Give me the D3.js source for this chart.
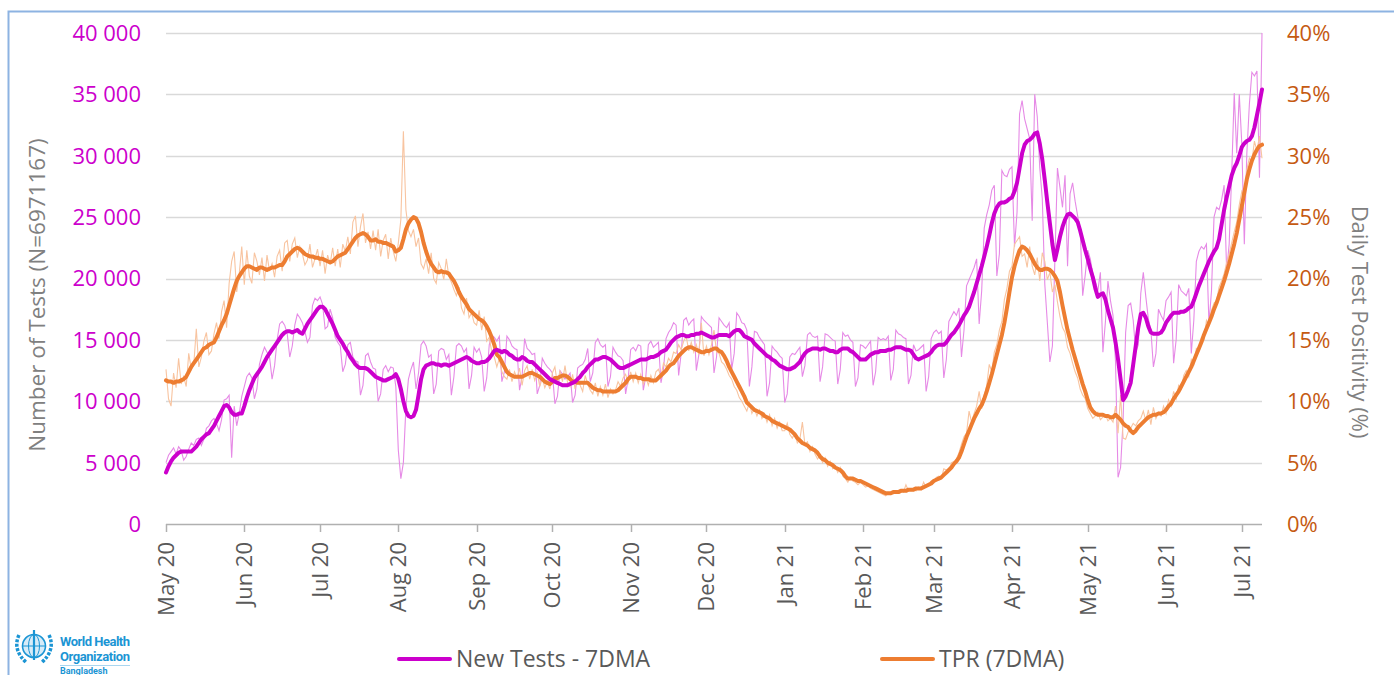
<!DOCTYPE html>
<html>
<head>
<meta charset="utf-8">
<script src="https://cdn.jsdelivr.net/npm/d3@7"></script>
<style>
  body { margin: 0; background: #fff; font-family: "Open Sans", sans-serif; }
</style>
</head>
<body>
<svg id="svg1" width="1394" height="675"></svg>
<script>
// daily series, first day 1 May 2020, one value per day up to 9 Jul 2021
var startDay = "2020-05-01";

// new tests, daily (thousands)
var testsDaily = [
  5.0,5.6,5.9,6.2,5.7,6.3,6.0,5.2,5.5,6.1,6.6,6.4,6.9,7.0,6.4,6.9,7.8,8.0,8.4,8.6,8.2,7.6,8.5,10.1,10.2,10.5,5.4,9.6,8.0,9.0,10.4,
  11.2,12.0,12.3,11.9,10.2,11.0,13.0,13.8,14.4,14.0,13.6,11.8,12.9,15.0,16.3,16.5,16.2,15.5,13.6,14.5,16.2,17.1,16.8,16.4,15.7,14.8,15.2,17.8,18.4,18.2,
  18.5,17.9,15.9,16.1,17.5,16.8,15.2,14.8,14.5,12.4,13.0,14.6,14.8,13.6,13.3,13.2,10.5,11.3,13.7,13.9,13.2,12.7,12.6,10.0,10.6,12.6,12.9,12.4,12.8,12.7,11.2,
  6.0,3.7,5.0,9.5,11.8,12.6,13.2,11.0,12.3,14.6,14.9,14.5,13.6,13.8,10.6,11.4,14.1,14.3,14.2,13.4,13.8,10.5,12.0,14.5,14.7,14.5,14.0,14.3,11.0,12.1,14.4,
  14.0,14.3,13.6,10.8,11.9,14.6,15.4,15.2,14.9,15.3,11.6,12.4,15.3,15.0,14.5,14.3,14.2,10.9,12.0,15.1,14.3,14.1,13.8,13.9,10.6,11.3,13.5,13.1,12.8,12.6,
  12.3,9.8,10.4,12.5,12.2,11.8,12.0,12.3,9.9,10.5,12.7,12.9,13.0,13.4,14.3,11.6,12.3,14.8,15.1,14.6,14.4,14.6,11.2,12.0,14.4,14.0,13.7,13.6,13.3,10.6,11.8,
  14.2,14.4,14.1,14.6,14.5,10.9,12.0,14.6,14.9,14.4,14.6,14.8,11.5,12.6,15.1,15.6,15.9,16.4,16.2,12.1,13.9,16.6,16.8,16.2,16.5,16.7,12.5,13.8,16.9,16.6,
  16.4,16.2,16.0,12.3,13.6,16.8,16.5,16.2,16.0,16.4,12.6,13.9,17.2,16.9,16.4,16.3,15.8,11.2,12.8,15.7,15.6,15.2,14.9,14.6,10.4,11.5,14.5,14.2,14.0,13.7,13.5,
  9.9,10.6,13.6,13.9,13.8,14.1,14.4,12.0,12.9,15.4,15.6,15.3,15.2,15.3,11.6,12.8,15.5,15.4,15.2,15.0,14.9,11.4,12.6,15.6,15.3,15.4,15.0,14.8,11.2,11.9,14.6,
  14.5,14.3,14.6,14.9,11.3,12.4,15.2,15.0,15.1,15.0,15.3,11.7,12.6,15.8,15.5,15.4,15.2,15.1,11.4,12.1,14.6,14.1,14.2,14.4,14.6,10.8,12.0,15.1,
  15.6,15.8,15.5,15.7,11.9,13.4,16.5,16.9,17.3,17.0,17.6,13.6,15.8,19.4,19.9,20.4,20.9,21.6,16.3,19.0,24.1,25.2,26.0,27.2,27.6,20.2,22.0,28.8,28.4,28.3,28.9,
  29.1,22.6,25.4,33.4,34.5,33.0,32.2,31.4,24.7,35.0,33.2,29.0,26.5,19.5,16.4,13.2,14.5,21.6,29.0,27.4,25.8,28.4,21.0,26.9,27.8,26.3,25.1,24.0,18.6,20.3,
  22.3,21.6,20.4,19.8,19.0,20.5,14.0,16.5,19.8,18.2,17.0,13.2,3.8,4.6,8.5,15.6,17.8,18.0,16.6,14.0,14.6,18.8,20.5,18.5,16.7,15.8,12.8,13.9,17.5,17.0,16.6,
  18.2,18.5,18.9,13.1,15.0,19.5,19.0,18.8,18.6,19.2,13.9,16.6,21.4,22.2,22.6,22.4,22.8,16.3,19.0,25.0,25.8,25.6,26.4,27.6,20.6,22.8,28.5,35.1,30.2,35.0,
  31.0,22.8,30.2,34.2,36.8,36.5,36.9,28.2,40.0
];

// new tests, 7 day moving average (thousands)
var tests7DMA = [
  4.2,4.7,5.1,5.4,5.6,5.8,5.9,5.9,5.9,5.9,5.9,6.1,6.3,6.6,6.9,7.1,7.3,7.4,7.7,8.0,8.4,8.8,9.2,9.6,9.7,9.5,9.1,8.9,8.9,9.0,9.0,
  9.6,10.3,10.9,11.4,11.9,12.2,12.5,12.8,13.2,13.6,13.9,14.2,14.5,14.8,15.1,15.4,15.6,15.7,15.7,15.6,15.7,15.8,15.6,15.5,15.9,16.3,16.6,16.9,17.2,17.5,
  17.7,17.7,17.5,17.1,16.7,16.3,15.8,15.3,15.0,14.7,14.3,14.0,13.6,13.3,13.0,12.8,12.7,12.7,12.7,12.6,12.4,12.2,12.0,11.9,11.8,11.7,11.7,11.8,11.9,12.0,12.2,
  11.8,11.0,10.0,9.2,8.8,8.7,8.8,9.3,10.5,11.8,12.6,12.9,13.0,13.1,13.1,13.0,13.0,12.9,13.0,13.0,12.9,13.0,13.1,13.2,13.3,13.4,13.5,13.6,13.5,13.3,13.2,
  13.1,13.1,13.2,13.2,13.3,13.5,13.8,14.1,14.2,14.1,14.0,14.1,14.0,13.8,13.7,13.5,13.4,13.4,13.6,13.5,13.3,13.2,13.2,13.0,12.8,12.6,12.4,12.2,12.0,11.8,
  11.7,11.6,11.5,11.4,11.3,11.3,11.3,11.4,11.5,11.6,11.8,12.0,12.3,12.5,12.8,13.0,13.2,13.4,13.4,13.5,13.6,13.6,13.5,13.4,13.2,13.0,12.8,12.7,12.7,12.8,12.9,
  13.0,13.1,13.2,13.3,13.4,13.4,13.4,13.5,13.6,13.6,13.7,13.8,14.0,14.1,14.2,14.5,14.8,15.0,15.2,15.3,15.4,15.4,15.3,15.3,15.4,15.4,15.5,15.5,15.6,15.5,
  15.4,15.3,15.2,15.2,15.3,15.4,15.4,15.4,15.4,15.3,15.5,15.7,15.8,15.8,15.6,15.3,15.2,15.1,15.0,14.7,14.5,14.3,14.1,13.9,13.7,13.6,13.4,13.3,13.1,12.9,12.8,
  12.7,12.6,12.6,12.7,12.8,13.0,13.2,13.6,13.9,14.1,14.2,14.3,14.3,14.3,14.2,14.3,14.3,14.2,14.1,14.1,14.0,14.0,14.2,14.3,14.3,14.3,14.1,14.0,13.8,13.6,13.4,
  13.4,13.4,13.6,13.8,13.9,14.0,14.0,14.1,14.1,14.1,14.2,14.2,14.3,14.4,14.4,14.4,14.3,14.2,14.2,14.1,13.8,13.5,13.4,13.5,13.6,13.7,13.8,14.0,
  14.3,14.5,14.6,14.6,14.6,14.8,15.1,15.4,15.6,15.9,16.2,16.6,17.0,17.3,17.7,18.3,18.9,19.6,20.3,21.0,21.8,22.6,23.5,24.5,25.3,25.8,26.1,26.2,26.2,26.3,26.5,
  26.6,27.1,27.8,29.0,30.2,30.9,31.2,31.3,31.5,31.8,31.9,31.0,29.7,28.0,26.2,24.5,22.8,21.5,22.4,23.4,24.2,24.8,25.2,25.3,25.1,24.9,24.6,23.9,23.1,22.3,
  21.6,20.8,20.1,19.2,18.5,18.7,18.8,18.3,17.4,16.7,16.0,14.8,13.4,11.8,10.1,10.4,10.9,11.5,13.0,14.5,16.0,17.1,17.2,16.8,16.1,15.6,15.5,15.5,15.5,15.6,15.9,
  16.4,16.7,17.0,17.2,17.2,17.2,17.3,17.3,17.4,17.6,17.7,18.2,18.8,19.4,19.9,20.4,20.9,21.4,21.8,22.2,22.5,23.2,24.4,25.6,26.6,27.5,28.4,29.0,29.4,30.0,
  30.7,31.0,31.2,31.3,31.6,32.3,33.3,34.3,35.4
];

// test positivity rate, daily (%)
var tprDaily = [
  12.6,10.2,9.6,12.3,11.1,13.5,11.4,12.0,11.2,13.9,12.6,13.0,15.9,12.8,13.6,14.9,15.6,13.8,14.1,15.5,16.4,15.1,17.3,18.2,16.0,19.6,21.4,22.2,18.9,20.4,22.6,
  19.5,22.3,20.2,19.6,22.1,21.4,20.3,21.7,19.8,21.9,20.6,21.2,20.1,21.8,22.3,20.6,22.9,23.1,21.4,22.8,23.3,21.7,22.6,22.0,21.1,21.5,22.8,20.9,21.6,22.4,
  21.0,22.3,20.4,21.9,21.2,22.5,21.0,22.4,20.9,22.8,22.2,23.4,22.0,24.6,25.1,22.6,24.2,25.3,22.9,23.8,22.4,23.9,22.3,24.0,21.8,23.1,23.6,21.6,23.3,22.2,21.4,
  22.9,24.8,32.0,25.6,23.9,23.4,24.0,22.6,23.3,21.2,20.8,21.6,20.4,22.1,20.0,19.6,21.3,20.8,19.9,21.6,20.2,19.7,19.1,18.6,19.3,17.6,17.1,18.4,16.8,17.2,16.4,
  16.2,17.4,15.8,16.9,14.9,15.2,14.0,13.6,12.8,13.5,12.4,12.0,11.8,12.6,11.6,12.4,11.9,12.7,11.3,12.5,12.9,11.8,12.6,11.7,12.3,11.2,11.9,11.1,11.6,11.0,
  12.3,12.8,11.4,12.5,11.6,12.9,11.5,11.2,12.2,11.0,11.9,11.3,10.8,12.1,11.4,10.9,10.6,11.5,10.4,11.2,10.5,11.4,10.3,11.0,10.6,10.9,11.6,11.2,11.9,12.2,11.5,
  12.4,11.6,12.3,11.5,12.2,11.4,12.0,11.3,12.1,11.5,12.4,12.6,12.0,13.1,12.8,13.5,13.2,14.0,13.9,14.6,14.2,14.9,15.3,14.1,14.8,14.0,14.6,13.8,16.4,13.7,
  14.5,13.8,14.6,15.8,14.0,13.9,13.2,13.0,12.6,12.1,11.8,11.2,10.9,10.3,10.0,9.6,9.2,9.9,9.0,9.4,8.8,9.3,8.6,9.0,8.3,8.9,8.0,8.6,7.8,8.3,7.6,
  7.6,8.2,7.3,7.0,7.4,6.6,6.9,8.3,6.5,6.7,5.9,6.3,5.7,5.3,5.6,5.0,5.4,4.7,5.1,4.5,4.7,4.2,4.6,3.9,3.7,3.4,3.8,3.5,3.4,3.2,3.4,
  3.2,3.0,3.1,2.9,2.8,2.7,2.6,2.5,2.4,2.3,2.5,2.4,2.7,2.5,2.6,2.8,2.6,3.2,2.7,2.8,2.9,2.7,3.0,2.8,3.4,3.0,3.3,3.5,
  3.4,3.8,3.9,3.7,4.5,4.4,4.3,5.0,5.1,5.3,5.8,6.5,7.1,7.4,9.2,8.3,9.0,9.6,10.8,9.4,10.5,11.3,13.0,12.4,14.0,14.6,15.8,16.5,18.3,19.2,20.6,
  21.0,22.8,23.1,23.4,21.8,22.0,20.9,22.6,21.0,20.3,21.7,19.8,22.1,21.4,19.9,20.5,18.9,19.5,18.1,16.9,16.0,15.6,14.4,13.9,13.1,12.4,11.9,11.0,10.5,10.2,
  9.4,9.0,8.6,8.8,9.1,8.5,8.7,8.9,8.4,8.6,8.3,9.6,7.4,10.5,7.0,6.9,7.5,7.8,8.2,8.0,8.4,8.6,9.2,8.4,9.3,8.1,9.5,8.6,9.1,8.8,9.6,
  9.0,10.1,9.6,10.8,10.2,11.3,11.0,12.1,12.5,12.0,13.4,13.0,14.3,14.1,15.2,15.0,16.6,16.2,17.4,18.0,18.2,19.3,19.8,20.4,21.3,22.0,22.9,23.8,24.6,26.0,
  27.1,26.6,28.9,29.8,29.5,31.2,30.4,31.6,29.8
];

// test positivity rate, 7 day moving average (%)
var tpr7DMA = [
  11.7,11.6,11.6,11.5,11.6,11.6,11.7,11.8,12.0,12.4,12.8,13.1,13.4,13.7,14.0,14.3,14.4,14.6,14.7,14.8,15.2,15.7,16.2,16.6,17.1,17.8,18.5,19.2,19.8,20.2,20.5,
  20.8,21.0,21.0,20.9,20.8,20.7,20.9,20.9,20.8,20.7,20.8,20.9,20.9,21.0,21.1,21.1,21.4,21.8,22.0,22.2,22.4,22.5,22.4,22.2,22.0,21.9,21.8,21.8,21.7,21.7,
  21.6,21.6,21.5,21.4,21.3,21.4,21.6,21.8,21.9,22.0,22.1,22.4,22.7,23.0,23.3,23.5,23.6,23.7,23.6,23.4,23.1,23.1,23.2,23.0,23.0,22.9,22.9,22.8,22.7,22.6,22.2,
  22.3,22.5,23.2,24.0,24.5,24.8,25.0,24.9,24.5,23.8,22.9,22.2,21.6,21.2,20.9,20.6,20.5,20.6,20.5,20.5,20.4,20.1,19.8,19.4,18.9,18.5,18.2,17.9,17.5,17.3,17.1,
  16.9,16.7,16.6,16.4,16.1,15.7,15.2,14.6,13.8,13.6,13.2,12.8,12.4,12.2,12.1,12.0,12.0,12.0,12.0,12.1,12.2,12.3,12.3,12.2,12.1,12.0,11.8,11.6,11.5,11.4,
  11.6,11.9,11.9,12.0,12.1,12.1,12.0,11.8,11.6,11.6,11.5,11.5,11.5,11.5,11.5,11.3,11.1,11.0,10.9,10.9,10.8,10.8,10.8,10.8,10.8,10.8,10.9,11.1,11.3,11.5,11.8,
  12.0,12.0,12.0,11.9,11.9,11.8,11.8,11.8,11.7,11.7,11.7,11.9,12.1,12.3,12.5,12.8,13.0,13.1,13.4,13.7,13.9,14.1,14.3,14.4,14.4,14.3,14.2,14.1,14.0,14.0,
  14.1,14.1,14.2,14.3,14.3,14.1,14.0,13.7,13.3,12.8,12.4,12.0,11.6,11.2,10.8,10.4,9.9,9.7,9.5,9.3,9.2,9.1,9.0,8.8,8.7,8.6,8.4,8.3,8.2,8.1,8.0,
  7.9,7.8,7.7,7.5,7.3,7.0,6.8,6.6,6.5,6.4,6.2,6.1,6.0,5.8,5.5,5.3,5.2,5.0,4.9,4.8,4.6,4.5,4.4,4.2,3.9,3.7,3.7,3.7,3.6,3.5,3.5,
  3.4,3.3,3.2,3.1,3.0,2.9,2.8,2.7,2.6,2.5,2.5,2.5,2.6,2.6,2.6,2.7,2.7,2.7,2.8,2.8,2.8,2.9,2.9,2.9,3.0,3.1,3.2,3.3,
  3.5,3.6,3.7,3.8,4.0,4.2,4.4,4.6,4.9,5.1,5.4,5.9,6.5,7.1,7.6,8.1,8.6,9.0,9.4,9.7,10.2,10.8,11.5,12.2,13.0,13.8,14.6,15.4,16.4,17.6,18.9,
  20.1,21.0,21.7,22.3,22.6,22.5,22.3,22.0,21.6,21.2,20.9,20.7,20.7,20.8,20.8,20.7,20.5,20.2,19.8,18.9,17.8,16.8,15.8,15.0,14.2,13.5,12.8,12.1,11.4,10.8,
  10.1,9.5,9.2,9.0,8.9,8.9,8.9,8.8,8.8,8.7,8.7,8.9,8.7,8.5,8.2,8.0,7.9,7.6,7.4,7.6,7.9,8.1,8.3,8.5,8.7,8.8,8.9,8.9,9.0,9.0,9.1,
  9.3,9.6,9.8,10.2,10.5,10.8,11.2,11.6,12.0,12.4,12.8,13.3,13.8,14.3,14.8,15.4,15.9,16.4,16.9,17.5,18.0,18.6,19.2,19.8,20.5,21.2,22.0,22.8,23.7,24.8,
  25.9,27.0,28.1,28.9,29.6,30.1,30.5,30.8,30.9
];

var testTicks = [0, 5000, 10000, 15000, 20000, 25000, 30000, 35000, 40000];
var tprTicks = [0, 5, 10, 15, 20, 25, 30, 35, 40];
var legendNames = ["New Tests - 7DMA", "TPR (7DMA)"];

var magenta = "#cc00cc";
var orange = "#ed7d31";

var svg = d3.select("#svg1");
var font = '"Open Sans", sans-serif';

var start = d3.timeParse("%Y-%m-%d")(startDay);
var days = tests7DMA.map(function(d, i) { return d3.timeDay.offset(start, i); });

var x = d3.scaleTime()
    .domain([start, days[days.length - 1]])
    .range([166, 1262]);

var yLeft = d3.scaleLinear().domain([0, 40000]).range([524, 33]);
var yRight = d3.scaleLinear().domain([0, 40]).range([524, 33]);

// outer frame (light blue, runs off the picture on the right and bottom)
svg.append("rect")
    .attr("x", 8.5).attr("y", 11.5)
    .attr("width", 1500).attr("height", 800)
    .attr("fill", "none")
    .attr("stroke", "#8db3e2")
    .attr("stroke-width", 2);

// gridlines
svg.selectAll(".grid")
    .data(testTicks.slice(1))
    .enter()
    .append("line")
    .attr("x1", 166).attr("x2", 1262)
    .attr("y1", function(d) { return Math.round(yLeft(d)) + 0.5; })
    .attr("y2", function(d) { return Math.round(yLeft(d)) + 0.5; })
    .attr("stroke", "#d9d9d9")
    .attr("stroke-width", 1.5);

// left tick labels
var spaceFmt = function(v) { return d3.format(",")(v).replace(/,/g, " "); };
svg.selectAll(".ltick")
    .data(testTicks)
    .enter()
    .append("text")
    .attr("x", 141)
    .attr("y", function(d) { return yLeft(d); })
    .attr("dy", "0.36em")
    .attr("text-anchor", "end")
    .attr("fill", magenta)
    .style("font-family", font)
    .style("font-size", "22px")
    .text(spaceFmt);

// right tick labels
svg.selectAll(".rtick")
    .data(tprTicks)
    .enter()
    .append("text")
    .attr("x", 1287)
    .attr("y", function(d) { return yRight(d); })
    .attr("dy", "0.36em")
    .attr("fill", "#c55a11")
    .style("font-family", font)
    .style("font-size", "22px")
    .text(function(d) { return d + "%"; });

// axis titles
svg.append("text")
    .attr("transform", "translate(37,295) rotate(-90)")
    .attr("dy", "0.36em")
    .attr("text-anchor", "middle")
    .attr("fill", "#808080")
    .style("font-family", font)
    .style("font-size", "22.5px")
    .text("Number of Tests (N=6971167)");

svg.append("text")
    .attr("transform", "translate(1360,322) rotate(90)")
    .attr("dy", "0.36em")
    .attr("text-anchor", "middle")
    .attr("fill", "#808080")
    .style("font-family", font)
    .style("font-size", "22px")
    .text("Daily Test Positivity (%)");

// x axis
var months = d3.timeMonth.range(start, days[days.length - 1]);
svg.append("line")
    .attr("x1", 166).attr("x2", 1262)
    .attr("y1", 524.5).attr("y2", 524.5)
    .attr("stroke", "#b0b0b0")
    .attr("stroke-width", 1.5);

svg.selectAll(".xtick")
    .data(months)
    .enter()
    .append("line")
    .attr("x1", function(d) { return Math.round(x(d)) + 0.5; })
    .attr("x2", function(d) { return Math.round(x(d)) + 0.5; })
    .attr("y1", 524).attr("y2", 532)
    .attr("stroke", "#b0b0b0")
    .attr("stroke-width", 1.5);

svg.selectAll(".xlab")
    .data(months)
    .enter()
    .append("text")
    .attr("transform", function(d) { return "translate(" + x(d) + ",542) rotate(-90)"; })
    .attr("dy", "0.36em")
    .attr("text-anchor", "end")
    .attr("fill", "#595959")
    .style("font-family", font)
    .style("font-size", "22px")
    .text(d3.timeFormat("%b %y"));

// lines
var lineTests = d3.line()
    .x(function(d, i) { return x(days[i]); })
    .y(function(d) { return yLeft(d * 1000); });

var lineTpr = d3.line()
    .x(function(d, i) { return x(days[i]); })
    .y(function(d) { return yRight(d); });

svg.append("path")
    .attr("d", lineTests(testsDaily))
    .attr("fill", "none")
    .attr("stroke", "#e68ae6")
    .attr("stroke-width", 1.1);

svg.append("path")
    .attr("d", lineTpr(tprDaily))
    .attr("fill", "none")
    .attr("stroke", "#f8c4a0")
    .attr("stroke-width", 1.1);

svg.append("path")
    .attr("d", lineTpr(tpr7DMA))
    .attr("fill", "none")
    .attr("stroke", orange)
    .attr("stroke-width", 4)
    .attr("stroke-linejoin", "round")
    .attr("stroke-linecap", "round");

svg.append("path")
    .attr("d", lineTests(tests7DMA))
    .attr("fill", "none")
    .attr("stroke", magenta)
    .attr("stroke-width", 4)
    .attr("stroke-linejoin", "round")
    .attr("stroke-linecap", "round");

// legend
var legend = svg.selectAll(".legend")
    .data(legendNames)
    .enter()
    .append("g")
    .attr("transform", function(d, i) { return "translate(" + (i === 0 ? 399 : 882) + ",659)"; });

legend.append("line")
    .attr("x1", 0).attr("x2", 51)
    .attr("y1", 0).attr("y2", 0)
    .attr("stroke", function(d, i) { return i === 0 ? magenta : orange; })
    .attr("stroke-width", 4)
    .attr("stroke-linecap", "round");

legend.append("text")
    .attr("x", 57)
    .attr("y", 0)
    .attr("dy", "0.36em")
    .attr("fill", "#595959")
    .style("font-family", font)
    .style("font-size", "23px")
    .text(function(d) { return d; });

// WHO mark, bottom left
var who = svg.append("g").attr("transform", "translate(34,646)");
var whoBlue = "#1b95d4";
who.append("circle").attr("r", 11.5).attr("fill", "#d7ecf8").attr("stroke", whoBlue).attr("stroke-width", 1.6);
who.append("ellipse").attr("rx", 5.5).attr("ry", 11.5).attr("fill", "none").attr("stroke", whoBlue).attr("stroke-width", 1);
who.append("line").attr("x1", -11.5).attr("x2", 11.5).attr("stroke", whoBlue).attr("stroke-width", 1);
who.append("line").attr("x1", 0).attr("x2", 0).attr("y1", -16).attr("y2", 14).attr("stroke", whoBlue).attr("stroke-width", 2.2);
who.append("path")
    .attr("d", "M-15,-11 Q-22,4 -7,17 M15,-11 Q22,4 7,17")
    .attr("fill", "none").attr("stroke", whoBlue).attr("stroke-width", 3.5).attr("stroke-dasharray", "3,1.5");

svg.append("text").attr("x", 60).attr("y", 646)
    .attr("fill", whoBlue).style("font-family", '"Roboto", sans-serif').style("font-size", "13px").style("font-weight", "bold")
    .attr("textLength", 70).text("World Health");
svg.append("text").attr("x", 60).attr("y", 661)
    .attr("fill", whoBlue).style("font-family", '"Roboto", sans-serif').style("font-size", "13px").style("font-weight", "bold")
    .attr("textLength", 70).text("Organization");
svg.append("line").attr("x1", 60).attr("x2", 130).attr("y1", 665.5).attr("y2", 665.5)
    .attr("stroke", "#a9d6f0").attr("stroke-width", 1);
svg.append("text").attr("x", 60).attr("y", 674)
    .attr("fill", whoBlue).style("font-family", '"Roboto", sans-serif').style("font-size", "9px").style("font-weight", "bold")
    .text("Bangladesh");
</script>
</body>
</html>
